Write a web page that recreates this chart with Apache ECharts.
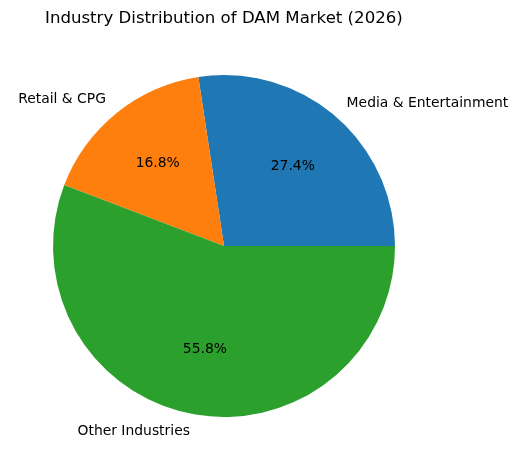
<!DOCTYPE html>
<html>
  <head>
    <meta charset="utf-8" />
    <title>DAM Market</title>
    <style type="text/css">
      html, body { margin: 0; padding: 0; background: #fff; }
      #main { width: 518px; height: 470px; }
    </style>
    <script type="text/javascript" src="https://cdn.jsdelivr.net/npm/echarts@6.0.0/dist/echarts.min.js"></script>
  </head>
  <body>
    <div id="main"></div>
    <script type="text/javascript">
    // data
    var industries = ['Media & Entertainment', 'Retail & CPG', 'Other Industries'];
    var shares = [27.4, 16.8, 55.8];
    var colors = ['#1f77b4', '#ff7f0e', '#2ca02c'];

    var R = 171;
    var CENTER = [224, 246];
    var FONT = 'DejaVu Sans';

    var pieData = industries.map(function (name, i) {
      return { name: name, value: shares[i], itemStyle: { color: colors[i] } };
    });

    var myChart = echarts.init(document.getElementById('main'));

    var option = {
      animation: false,
      backgroundColor: '#fff',
      title: {
        text: 'Industry Distribution of DAM Market (2026)',
        left: 45,
        top: 10,
        padding: 0,
        textStyle: { fontFamily: FONT, fontSize: 16.6, fontWeight: 'normal', color: '#000' }
      },
      series: [
        {
          // wedges + outside category labels
          type: 'pie',
          center: CENTER,
          radius: [0, R],
          startAngle: 0,
          clockwise: false,
          avoidLabelOverlap: false,
          silent: true,
          data: pieData,
          label: {
            show: true,
            position: 'outside',
            formatter: '{b}',
            fontFamily: FONT,
            fontSize: 13.9,
            color: '#000',
            distanceToLabelLine: 0
          },
          labelLine: { show: false, length: R * 0.1, length2: 0 }
        },
        {
          // transparent ring to place percentages at 0.6 R
          type: 'pie',
          center: CENTER,
          radius: [0, R * 1.2],
          startAngle: 0,
          clockwise: false,
          avoidLabelOverlap: false,
          silent: true,
          data: pieData.map(function (d) {
            return { name: d.name, value: d.value, itemStyle: { color: 'rgba(0,0,0,0)' } };
          }),
          label: {
            show: true,
            position: 'inside',
            formatter: function (p) { return p.value.toFixed(1) + '%'; },
            fontFamily: FONT,
            fontSize: 13.9,
            color: '#000'
          },
          labelLine: { show: false }
        }
      ]
    };

    myChart.setOption(option);
    </script>
  </body>
</html>
